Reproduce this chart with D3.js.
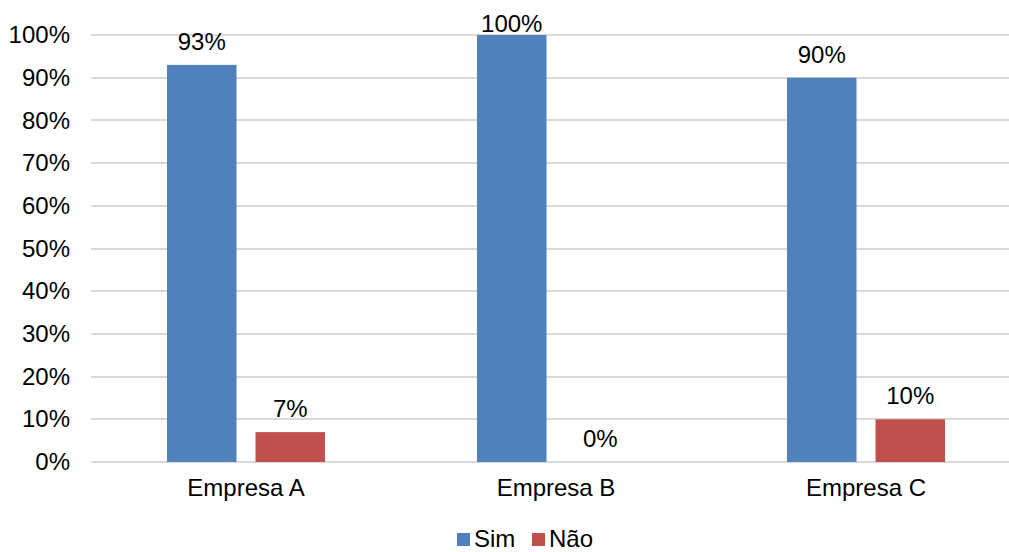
<!DOCTYPE html>
<html>
<head>
<meta charset="utf-8">
<script src="https://cdn.jsdelivr.net/npm/d3@7"></script>
<style>
  body { margin: 0; background: #fff; }
  text { font-family: "Liberation Sans", Arial, sans-serif; fill: #000; }
</style>
</head>
<body>
<svg id="chart" width="1009" height="552"></svg>
<script>
var categories = ["Empresa A", "Empresa B", "Empresa C"];
var seriesNames = ["Sim", "Não"];
var simValues = [0.93, 1.00, 0.90];
var naoValues = [0.07, 0.00, 0.10];
var yTicks = [0, 0.1, 0.2, 0.3, 0.4, 0.5, 0.6, 0.7, 0.8, 0.9, 1.0];
var colors = ["#4F81BD", "#C0504D"];

var svg = d3.select("#chart"),
    fontSize = 24,
    plotLeft = 91, plotRight = 1021, plotTop = 35, plotBottom = 462;

var x = d3.scaleBand().domain(categories).range([plotLeft, plotRight]).paddingInner(0).paddingOuter(0);
var xs = d3.scaleBand().domain(seriesNames).range([0, x.bandwidth()]).paddingInner(0.215).paddingOuter(0.859);
var y = d3.scaleLinear().domain([0, 1]).range([plotBottom, plotTop]);

// grid lines
svg.append("g")
  .selectAll("line")
  .data(yTicks)
  .enter()
    .append("line")
    .attr("x1", plotLeft)
    .attr("x2", plotRight)
    .attr("y1", function(d) { return Math.round(y(d)); })
    .attr("y2", function(d) { return Math.round(y(d)); })
    .attr("stroke", "#D9D9D9")
    .attr("stroke-width", 2);

// y axis labels
var yAxis = d3.axisLeft(y).tickValues(yTicks).tickSize(0).tickPadding(0)
  .tickFormat(function(d) { return Math.round(d * 100) + "%"; });
var yg = svg.append("g").attr("transform", "translate(70,0)").call(yAxis);
yg.select(".domain").remove();
yg.selectAll("text").attr("font-size", fontSize).attr("font-family", null).attr("fill", "#000");

// x axis labels
var xAxis = d3.axisBottom(x).tickSize(0).tickPadding(0);
var xg = svg.append("g").attr("transform", "translate(0," + (plotBottom + 17) + ")").call(xAxis);
xg.select(".domain").remove();
xg.selectAll("text").attr("font-size", fontSize).attr("font-family", null).attr("fill", "#000");

var rows = categories.map(function(c, i) {
  return { cat: c, values: [simValues[i], naoValues[i]] };
});

var groups = svg.append("g")
  .selectAll("g")
  .data(rows)
  .enter()
    .append("g")
    .attr("transform", function(d) { return "translate(" + x(d.cat) + ",0)"; });

var bars = groups.selectAll("g.bar")
  .data(function(d) {
    return d.values.map(function(v, j) { return { s: seriesNames[j], v: v, j: j }; });
  })
  .enter()
    .append("g").attr("class", "bar");

bars.append("rect")
  .attr("x", function(d) { return xs(d.s); })
  .attr("width", xs.bandwidth())
  .attr("y", function(d) { return y(d.v); })
  .attr("height", function(d) { return y(0) - y(d.v); })
  .attr("fill", function(d) { return colors[d.j]; });

bars.append("text")
  .attr("x", function(d) { return xs(d.s) + xs.bandwidth() / 2; })
  .attr("y", function(d) { return Math.max(y(d.v) - 15, 32); })
  .attr("text-anchor", "middle")
  .attr("font-size", fontSize)
  .text(function(d) { return Math.round(d.v * 100) + "%"; });

// legend
var legend = svg.append("g")
  .selectAll("g")
  .data(seriesNames)
  .enter()
    .append("g")
    .attr("transform", function(d, i) { return "translate(" + (457 + i * 75) + ",533)"; });

legend.append("rect")
  .attr("width", 13)
  .attr("height", 13)
  .attr("fill", function(d, i) { return colors[i]; });

legend.append("text")
  .attr("x", 17)
  .attr("y", 14)
  .attr("font-size", fontSize)
  .text(function(d) { return d; });
</script>
</body>
</html>
